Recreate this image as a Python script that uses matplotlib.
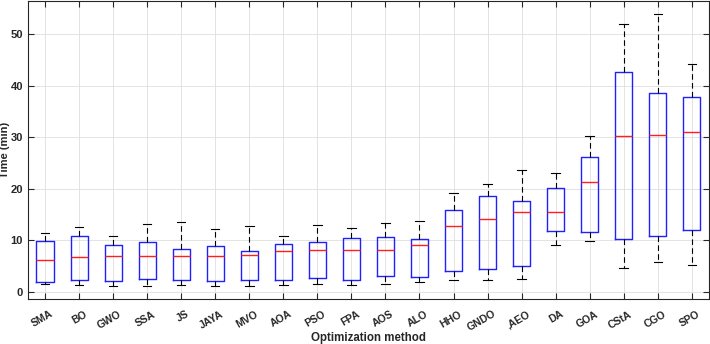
import matplotlib
matplotlib.use("Agg")
from matplotlib import pyplot as plt
from matplotlib import transforms

# optimization methods, in plotting order
methods = ["SMA", "BO", "GWO", "SSA", "JS", "JAYA", "MVO", "AOA", "PSO", "FPA",
           "AOS", "ALO", "HHO", "GNDO", ",AEO", "DA", "GOA", "CStA", "CGO", "SPO"]

# box statistics (minutes)
whisker_low = [1.4, 1.26, 1.0, 1.1, 1.2, 1.13, 1.0, 1.2, 1.46, 1.2,
               1.4, 1.78, 2.17, 2.23, 2.5, 8.97, 9.75, 4.6, 5.7, 5.1]
q1 = [1.9, 2.3, 2.04, 2.4, 2.17, 2.04, 2.2, 2.3, 2.56, 2.23,
      3.07, 2.75, 3.98, 4.3, 5.0, 11.7, 11.5, 10.26, 10.8, 11.9]
median = [6.1, 6.8, 6.9, 6.95, 6.95, 6.95, 7.15, 7.86, 8.0, 8.0,
          8.1, 8.97, 12.8, 14.15, 15.4, 15.45, 21.3, 30.25, 30.4, 31.0]
q3 = [9.75, 10.9, 9.0, 9.6, 8.25, 8.83, 7.9, 9.3, 9.7, 10.5,
      10.6, 10.3, 15.95, 18.5, 17.7, 20.2, 26.1, 42.75, 38.7, 37.9]
whisker_high = [11.3, 12.6, 10.9, 13.2, 13.5, 12.1, 12.7, 10.85, 13.0, 12.3,
                13.36, 13.75, 19.1, 21.0, 23.6, 23.1, 30.25, 52.1, 53.9, 44.3]


def main():
    plt.rcParams["font.family"] = ["Liberation Sans", "DejaVu Sans"]
    plt.rcParams["font.weight"] = "bold"

    stats = []
    for i in range(len(methods)):
        stats.append({
            "label": methods[i],
            "whislo": whisker_low[i],
            "q1": q1[i],
            "med": median[i],
            "q3": q3[i],
            "whishi": whisker_high[i],
            "fliers": [],
        })

    fig = plt.figure(figsize=(7.1, 3.44), dpi=100)
    ax = fig.add_axes([0.0394, 0.130, 0.959, 0.867])
    ax.bxp(
        stats,
        widths=0.5,
        showfliers=False,
        boxprops=dict(color="#1f1fff", linewidth=1.0),
        medianprops=dict(color="#ff1f1f", linewidth=1.0),
        whiskerprops=dict(color="black", linewidth=0.8, linestyle=(0, (5, 3))),
        capprops=dict(color="black", linewidth=0.8),
    )

    ax.set_xlim(0.5, 20.5)
    ax.set_ylim(-1.5, 56.5)
    ax.set_yticks([0, 10, 20, 30, 40, 50])
    ax.grid(True, color="#dedede", linewidth=0.6)
    ax.set_axisbelow(True)

    ax.tick_params(direction="in", top=True, right=True, length=4,
                   labelsize=8, colors="#262626")
    ax.tick_params(axis="x", pad=7, labelsize=7.5)
    # rotated labels sit a little right of their ticks, like the original
    shift = transforms.ScaledTranslation(0.05, 0, fig.dpi_scale_trans)
    for lab in ax.get_xticklabels():
        lab.set_rotation(30)
        lab.set_ha("right")
        lab.set_va("top")
        lab.set_rotation_mode("anchor")
        lab.set_transform(lab.get_transform() + shift)
    for s in ax.spines.values():
        s.set_color("#262626")
        s.set_linewidth(0.8)

    ax.set_xlabel("Optimization method", fontsize=8.3, fontweight="bold",
                  color="#262626")
    ax.xaxis.set_label_coords(0.5, -0.11)
    ax.set_ylabel("Time (min)", fontsize=8, fontweight="bold",
                  color="#262626")
    ax.yaxis.set_label_coords(-0.026, 0.5)

    fig.savefig("out.png", dpi=100)


if __name__ == "__main__":
    main()
